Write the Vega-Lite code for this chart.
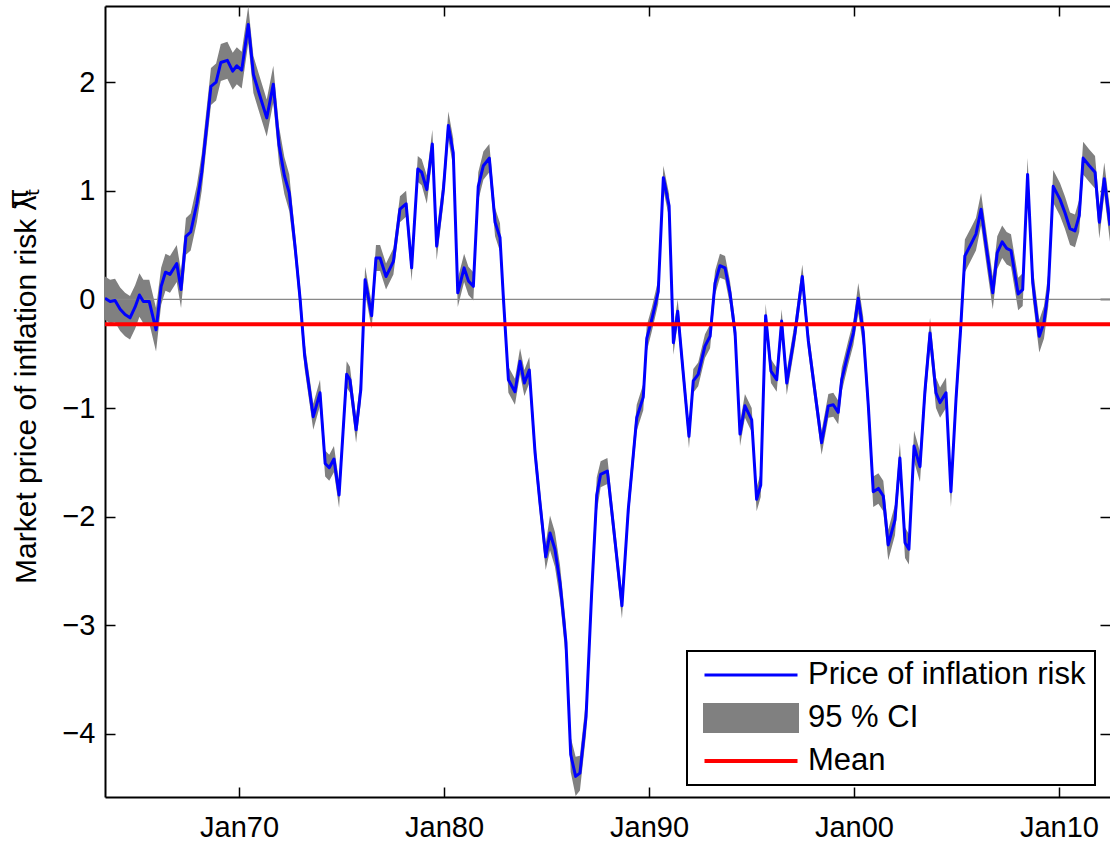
{
  "$schema": "https://vega.github.io/schema/vega-lite/v6.json",
  "width": 1005,
  "height": 791,
  "autosize": {"type": "none"},
  "padding": {"left": 105, "top": 6, "right": 0, "bottom": 45},
  "background": "white",
  "config": {
    "view": {"stroke": null},
    "font": "Liberation Sans",
    "axis": {"grid": false, "labelFont": "Liberation Sans", "labelFontSize": 29, "labelColor": "black", "tickColor": "black", "tickWidth": 1.5, "domainColor": "black", "domainWidth": 2, "labelOverlap": false, "labelFlush": false}
  },
  "datasets": {
    "series": [
      {"date": 1963.46, "lambda": 0.01, "lo": -0.19, "hi": 0.21},
      {"date": 1963.71, "lambda": -0.02, "lo": -0.22, "hi": 0.18},
      {"date": 1963.95, "lambda": -0.01, "lo": -0.21, "hi": 0.19},
      {"date": 1964.20, "lambda": -0.09, "lo": -0.29, "hi": 0.11},
      {"date": 1964.44, "lambda": -0.14, "lo": -0.34, "hi": 0.06},
      {"date": 1964.68, "lambda": -0.17, "lo": -0.37, "hi": 0.03},
      {"date": 1964.93, "lambda": -0.07, "lo": -0.27, "hi": 0.13},
      {"date": 1965.14, "lambda": 0.04, "lo": -0.16, "hi": 0.24},
      {"date": 1965.33, "lambda": -0.02, "lo": -0.22, "hi": 0.18},
      {"date": 1965.62, "lambda": -0.02, "lo": -0.22, "hi": 0.18},
      {"date": 1965.95, "lambda": -0.28, "lo": -0.48, "hi": -0.08},
      {"date": 1966.20, "lambda": 0.12, "lo": -0.05, "hi": 0.29},
      {"date": 1966.41, "lambda": 0.25, "lo": 0.08, "hi": 0.42},
      {"date": 1966.63, "lambda": 0.23, "lo": 0.06, "hi": 0.40},
      {"date": 1966.96, "lambda": 0.33, "lo": 0.16, "hi": 0.50},
      {"date": 1967.17, "lambda": 0.09, "lo": -0.08, "hi": 0.26},
      {"date": 1967.41, "lambda": 0.58, "lo": 0.41, "hi": 0.75},
      {"date": 1967.64, "lambda": 0.62, "lo": 0.45, "hi": 0.79},
      {"date": 1967.94, "lambda": 0.88, "lo": 0.71, "hi": 1.05},
      {"date": 1968.18, "lambda": 1.17, "lo": 1.00, "hi": 1.34},
      {"date": 1968.39, "lambda": 1.54, "lo": 1.37, "hi": 1.71},
      {"date": 1968.63, "lambda": 1.96, "lo": 1.79, "hi": 2.13},
      {"date": 1968.88, "lambda": 2.00, "lo": 1.83, "hi": 2.17},
      {"date": 1969.11, "lambda": 2.18, "lo": 2.01, "hi": 2.35},
      {"date": 1969.43, "lambda": 2.20, "lo": 2.03, "hi": 2.37},
      {"date": 1969.69, "lambda": 2.10, "lo": 1.93, "hi": 2.27},
      {"date": 1969.89, "lambda": 2.15, "lo": 1.98, "hi": 2.32},
      {"date": 1970.13, "lambda": 2.11, "lo": 1.94, "hi": 2.28},
      {"date": 1970.45, "lambda": 2.53, "lo": 2.36, "hi": 2.70},
      {"date": 1970.70, "lambda": 2.07, "lo": 1.90, "hi": 2.24},
      {"date": 1970.94, "lambda": 1.92, "lo": 1.75, "hi": 2.09},
      {"date": 1971.35, "lambda": 1.67, "lo": 1.50, "hi": 1.84},
      {"date": 1971.67, "lambda": 1.98, "lo": 1.81, "hi": 2.15},
      {"date": 1971.95, "lambda": 1.42, "lo": 1.25, "hi": 1.59},
      {"date": 1972.21, "lambda": 1.14, "lo": 0.97, "hi": 1.31},
      {"date": 1972.45, "lambda": 0.98, "lo": 0.81, "hi": 1.15},
      {"date": 1972.73, "lambda": 0.49, "lo": 0.37, "hi": 0.61},
      {"date": 1972.98, "lambda": 0.00, "lo": -0.12, "hi": 0.12},
      {"date": 1973.20, "lambda": -0.52, "lo": -0.64, "hi": -0.40},
      {"date": 1973.62, "lambda": -1.08, "lo": -1.20, "hi": -0.96},
      {"date": 1973.95, "lambda": -0.86, "lo": -0.98, "hi": -0.74},
      {"date": 1974.20, "lambda": -1.51, "lo": -1.63, "hi": -1.39},
      {"date": 1974.40, "lambda": -1.55, "lo": -1.67, "hi": -1.43},
      {"date": 1974.63, "lambda": -1.47, "lo": -1.59, "hi": -1.35},
      {"date": 1974.88, "lambda": -1.80, "lo": -1.92, "hi": -1.68},
      {"date": 1975.25, "lambda": -0.69, "lo": -0.81, "hi": -0.57},
      {"date": 1975.41, "lambda": -0.74, "lo": -0.86, "hi": -0.62},
      {"date": 1975.71, "lambda": -1.20, "lo": -1.32, "hi": -1.08},
      {"date": 1975.94, "lambda": -0.83, "lo": -0.95, "hi": -0.71},
      {"date": 1976.15, "lambda": 0.18, "lo": 0.06, "hi": 0.30},
      {"date": 1976.47, "lambda": -0.15, "lo": -0.27, "hi": -0.03},
      {"date": 1976.68, "lambda": 0.38, "lo": 0.26, "hi": 0.50},
      {"date": 1976.88, "lambda": 0.38, "lo": 0.26, "hi": 0.50},
      {"date": 1977.17, "lambda": 0.21, "lo": 0.09, "hi": 0.33},
      {"date": 1977.53, "lambda": 0.35, "lo": 0.23, "hi": 0.47},
      {"date": 1977.85, "lambda": 0.83, "lo": 0.71, "hi": 0.95},
      {"date": 1978.15, "lambda": 0.88, "lo": 0.76, "hi": 1.00},
      {"date": 1978.42, "lambda": 0.29, "lo": 0.17, "hi": 0.41},
      {"date": 1978.72, "lambda": 1.20, "lo": 1.08, "hi": 1.32},
      {"date": 1978.91, "lambda": 1.17, "lo": 1.05, "hi": 1.29},
      {"date": 1979.16, "lambda": 1.01, "lo": 0.88, "hi": 1.14},
      {"date": 1979.43, "lambda": 1.43, "lo": 1.30, "hi": 1.56},
      {"date": 1979.64, "lambda": 0.49, "lo": 0.36, "hi": 0.62},
      {"date": 1979.97, "lambda": 1.01, "lo": 0.88, "hi": 1.14},
      {"date": 1980.21, "lambda": 1.60, "lo": 1.47, "hi": 1.73},
      {"date": 1980.45, "lambda": 1.35, "lo": 1.22, "hi": 1.48},
      {"date": 1980.67, "lambda": 0.06, "lo": -0.07, "hi": 0.19},
      {"date": 1980.98, "lambda": 0.29, "lo": 0.16, "hi": 0.42},
      {"date": 1981.19, "lambda": 0.17, "lo": 0.04, "hi": 0.30},
      {"date": 1981.43, "lambda": 0.12, "lo": -0.01, "hi": 0.25},
      {"date": 1981.67, "lambda": 1.04, "lo": 0.91, "hi": 1.17},
      {"date": 1981.92, "lambda": 1.23, "lo": 1.10, "hi": 1.36},
      {"date": 1982.21, "lambda": 1.30, "lo": 1.17, "hi": 1.43},
      {"date": 1982.49, "lambda": 0.71, "lo": 0.58, "hi": 0.84},
      {"date": 1982.73, "lambda": 0.57, "lo": 0.44, "hi": 0.70},
      {"date": 1982.90, "lambda": 0.00, "lo": -0.13, "hi": 0.13},
      {"date": 1983.14, "lambda": -0.74, "lo": -0.86, "hi": -0.62},
      {"date": 1983.46, "lambda": -0.85, "lo": -0.97, "hi": -0.73},
      {"date": 1983.71, "lambda": -0.57, "lo": -0.69, "hi": -0.45},
      {"date": 1983.92, "lambda": -0.77, "lo": -0.89, "hi": -0.65},
      {"date": 1984.16, "lambda": -0.65, "lo": -0.77, "hi": -0.53},
      {"date": 1984.44, "lambda": -1.41, "lo": -1.53, "hi": -1.29},
      {"date": 1984.68, "lambda": -1.87, "lo": -1.99, "hi": -1.75},
      {"date": 1984.96, "lambda": -2.37, "lo": -2.49, "hi": -2.25},
      {"date": 1985.17, "lambda": -2.15, "lo": -2.31, "hi": -1.99},
      {"date": 1985.41, "lambda": -2.30, "lo": -2.46, "hi": -2.14},
      {"date": 1985.66, "lambda": -2.61, "lo": -2.77, "hi": -2.45},
      {"date": 1985.95, "lambda": -3.16, "lo": -3.32, "hi": -3.00},
      {"date": 1986.18, "lambda": -4.19, "lo": -4.35, "hi": -4.03},
      {"date": 1986.42, "lambda": -4.39, "lo": -4.57, "hi": -4.21},
      {"date": 1986.63, "lambda": -4.36, "lo": -4.52, "hi": -4.20},
      {"date": 1986.93, "lambda": -3.84, "lo": -4.00, "hi": -3.68},
      {"date": 1987.20, "lambda": -2.71, "lo": -2.87, "hi": -2.55},
      {"date": 1987.45, "lambda": -1.80, "lo": -1.96, "hi": -1.64},
      {"date": 1987.64, "lambda": -1.61, "lo": -1.73, "hi": -1.49},
      {"date": 1987.97, "lambda": -1.58, "lo": -1.70, "hi": -1.46},
      {"date": 1988.34, "lambda": -2.22, "lo": -2.34, "hi": -2.10},
      {"date": 1988.68, "lambda": -2.82, "lo": -2.94, "hi": -2.70},
      {"date": 1988.99, "lambda": -1.93, "lo": -2.05, "hi": -1.81},
      {"date": 1989.40, "lambda": -1.09, "lo": -1.21, "hi": -0.97},
      {"date": 1989.72, "lambda": -0.90, "lo": -1.02, "hi": -0.78},
      {"date": 1989.89, "lambda": -0.36, "lo": -0.48, "hi": -0.24},
      {"date": 1990.13, "lambda": -0.19, "lo": -0.30, "hi": -0.08},
      {"date": 1990.45, "lambda": 0.07, "lo": -0.04, "hi": 0.18},
      {"date": 1990.70, "lambda": 1.12, "lo": 1.01, "hi": 1.23},
      {"date": 1990.98, "lambda": 0.86, "lo": 0.75, "hi": 0.97},
      {"date": 1991.19, "lambda": -0.40, "lo": -0.51, "hi": -0.29},
      {"date": 1991.40, "lambda": -0.11, "lo": -0.22, "hi": 0.00},
      {"date": 1991.67, "lambda": -0.68, "lo": -0.79, "hi": -0.57},
      {"date": 1991.95, "lambda": -1.26, "lo": -1.37, "hi": -1.15},
      {"date": 1992.16, "lambda": -0.75, "lo": -0.86, "hi": -0.64},
      {"date": 1992.40, "lambda": -0.69, "lo": -0.80, "hi": -0.58},
      {"date": 1992.73, "lambda": -0.43, "lo": -0.54, "hi": -0.32},
      {"date": 1992.98, "lambda": -0.34, "lo": -0.45, "hi": -0.23},
      {"date": 1993.22, "lambda": 0.15, "lo": 0.04, "hi": 0.26},
      {"date": 1993.46, "lambda": 0.31, "lo": 0.20, "hi": 0.42},
      {"date": 1993.71, "lambda": 0.29, "lo": 0.18, "hi": 0.40},
      {"date": 1993.95, "lambda": 0.06, "lo": -0.05, "hi": 0.17},
      {"date": 1994.20, "lambda": -0.31, "lo": -0.42, "hi": -0.20},
      {"date": 1994.44, "lambda": -1.24, "lo": -1.35, "hi": -1.13},
      {"date": 1994.68, "lambda": -0.98, "lo": -1.09, "hi": -0.87},
      {"date": 1995.01, "lambda": -1.11, "lo": -1.22, "hi": -1.00},
      {"date": 1995.25, "lambda": -1.84, "lo": -1.95, "hi": -1.73},
      {"date": 1995.45, "lambda": -1.71, "lo": -1.82, "hi": -1.60},
      {"date": 1995.69, "lambda": -0.15, "lo": -0.26, "hi": -0.04},
      {"date": 1995.95, "lambda": -0.66, "lo": -0.77, "hi": -0.55},
      {"date": 1996.23, "lambda": -0.74, "lo": -0.85, "hi": -0.63},
      {"date": 1996.47, "lambda": -0.20, "lo": -0.31, "hi": -0.09},
      {"date": 1996.72, "lambda": -0.77, "lo": -0.88, "hi": -0.66},
      {"date": 1997.12, "lambda": -0.31, "lo": -0.42, "hi": -0.20},
      {"date": 1997.48, "lambda": 0.21, "lo": 0.10, "hi": 0.32},
      {"date": 1997.77, "lambda": -0.38, "lo": -0.49, "hi": -0.27},
      {"date": 1998.10, "lambda": -0.86, "lo": -0.97, "hi": -0.75},
      {"date": 1998.42, "lambda": -1.32, "lo": -1.43, "hi": -1.21},
      {"date": 1998.75, "lambda": -0.98, "lo": -1.09, "hi": -0.87},
      {"date": 1998.99, "lambda": -0.97, "lo": -1.08, "hi": -0.86},
      {"date": 1999.23, "lambda": -1.04, "lo": -1.15, "hi": -0.93},
      {"date": 1999.40, "lambda": -0.74, "lo": -0.85, "hi": -0.63},
      {"date": 1999.72, "lambda": -0.49, "lo": -0.60, "hi": -0.38},
      {"date": 1999.97, "lambda": -0.31, "lo": -0.42, "hi": -0.20},
      {"date": 2000.21, "lambda": 0.01, "lo": -0.13, "hi": 0.15},
      {"date": 2000.45, "lambda": -0.30, "lo": -0.44, "hi": -0.16},
      {"date": 2000.70, "lambda": -0.98, "lo": -1.12, "hi": -0.84},
      {"date": 2000.94, "lambda": -1.77, "lo": -1.91, "hi": -1.63},
      {"date": 2001.19, "lambda": -1.74, "lo": -1.88, "hi": -1.60},
      {"date": 2001.43, "lambda": -1.81, "lo": -1.95, "hi": -1.67},
      {"date": 2001.67, "lambda": -2.26, "lo": -2.40, "hi": -2.12},
      {"date": 2002.00, "lambda": -2.03, "lo": -2.17, "hi": -1.89},
      {"date": 2002.24, "lambda": -1.46, "lo": -1.60, "hi": -1.32},
      {"date": 2002.49, "lambda": -2.24, "lo": -2.38, "hi": -2.10},
      {"date": 2002.68, "lambda": -2.30, "lo": -2.44, "hi": -2.16},
      {"date": 2002.93, "lambda": -1.35, "lo": -1.49, "hi": -1.21},
      {"date": 2003.22, "lambda": -1.54, "lo": -1.68, "hi": -1.40},
      {"date": 2003.46, "lambda": -0.85, "lo": -0.99, "hi": -0.71},
      {"date": 2003.71, "lambda": -0.31, "lo": -0.45, "hi": -0.17},
      {"date": 2004.00, "lambda": -0.86, "lo": -1.00, "hi": -0.72},
      {"date": 2004.20, "lambda": -0.95, "lo": -1.09, "hi": -0.81},
      {"date": 2004.49, "lambda": -0.86, "lo": -1.00, "hi": -0.72},
      {"date": 2004.73, "lambda": -1.77, "lo": -1.91, "hi": -1.63},
      {"date": 2004.98, "lambda": -0.91, "lo": -1.05, "hi": -0.77},
      {"date": 2005.20, "lambda": -0.28, "lo": -0.43, "hi": -0.13},
      {"date": 2005.41, "lambda": 0.40, "lo": 0.25, "hi": 0.55},
      {"date": 2005.71, "lambda": 0.51, "lo": 0.36, "hi": 0.66},
      {"date": 2005.95, "lambda": 0.60, "lo": 0.45, "hi": 0.75},
      {"date": 2006.20, "lambda": 0.83, "lo": 0.68, "hi": 0.98},
      {"date": 2006.47, "lambda": 0.46, "lo": 0.31, "hi": 0.61},
      {"date": 2006.77, "lambda": 0.06, "lo": -0.09, "hi": 0.21},
      {"date": 2006.99, "lambda": 0.43, "lo": 0.28, "hi": 0.58},
      {"date": 2007.23, "lambda": 0.53, "lo": 0.38, "hi": 0.68},
      {"date": 2007.45, "lambda": 0.47, "lo": 0.32, "hi": 0.62},
      {"date": 2007.66, "lambda": 0.45, "lo": 0.30, "hi": 0.60},
      {"date": 2008.01, "lambda": 0.05, "lo": -0.10, "hi": 0.20},
      {"date": 2008.23, "lambda": 0.09, "lo": -0.06, "hi": 0.24},
      {"date": 2008.47, "lambda": 1.15, "lo": 1.00, "hi": 1.30},
      {"date": 2008.72, "lambda": 0.15, "lo": 0.00, "hi": 0.30},
      {"date": 2009.04, "lambda": -0.34, "lo": -0.49, "hi": -0.19},
      {"date": 2009.27, "lambda": -0.21, "lo": -0.36, "hi": -0.06},
      {"date": 2009.48, "lambda": 0.09, "lo": -0.06, "hi": 0.24},
      {"date": 2009.72, "lambda": 1.04, "lo": 0.89, "hi": 1.19},
      {"date": 2010.05, "lambda": 0.92, "lo": 0.77, "hi": 1.07},
      {"date": 2010.29, "lambda": 0.80, "lo": 0.65, "hi": 0.95},
      {"date": 2010.54, "lambda": 0.65, "lo": 0.50, "hi": 0.80},
      {"date": 2010.78, "lambda": 0.63, "lo": 0.48, "hi": 0.78},
      {"date": 2010.99, "lambda": 0.77, "lo": 0.62, "hi": 0.92},
      {"date": 2011.18, "lambda": 1.30, "lo": 1.15, "hi": 1.45},
      {"date": 2011.48, "lambda": 1.23, "lo": 1.08, "hi": 1.38},
      {"date": 2011.76, "lambda": 1.17, "lo": 1.02, "hi": 1.32},
      {"date": 2011.97, "lambda": 0.71, "lo": 0.56, "hi": 0.86},
      {"date": 2012.21, "lambda": 1.11, "lo": 0.96, "hi": 1.26},
      {"date": 2012.49, "lambda": 0.68, "lo": 0.53, "hi": 0.83}
    ],
    "zero": [{"level": 0}],
    "mean": [{"mean": -0.23}]
  },
  "resolve": {"axis": {"x": "independent", "y": "independent"}},
  "layer": [
    {
      "data": {"name": "series"},
      "mark": {"type": "area", "clip": true, "opacity": 1},
      "encoding": {
        "x": {"field": "date", "type": "quantitative", "scale": {"domain": [1963.46, 2012.49], "nice": false, "zero": false},
          "axis": {"orient": "bottom", "values": [1970, 1980, 1990, 2000, 2010], "labelExpr": "'Jan' + format(datum.value % 100, '02d')", "tickSize": -10, "labelPadding": 40.5, "labelBaseline": "middle", "title": null}},
        "y": {"field": "lo", "type": "quantitative", "scale": {"domain": [-4.58, 2.70], "nice": false, "zero": false},
          "axis": {"orient": "left", "values": [-4, -3, -2, -1, 0, 1, 2], "tickSize": -10, "labelPadding": 20,
            "title": ["π", "Market price of inflation risk  λₜ "], "titleFont": "Liberation Sans", "titleFontSize": 30, "titleFontWeight": "normal", "titleColor": "black",
            "titleAngle": -90, "titleAlign": "right", "titleBaseline": "alphabetic", "titleLineHeight": 8, "titleX": -78, "titleY": 182}},
        "y2": {"field": "hi"},
        "color": {"datum": "95 % CI", "type": "nominal",
          "scale": {"domain": ["Price of inflation risk", "95 % CI", "Mean"], "range": ["#0000ff", "#808080", "#ff0000"]},
          "legend": {
            "title": null, "orient": "none", "legendX": 582, "legendY": 645,
            "direction": "vertical",
            "fillColor": "white", "strokeColor": "black",
            "padding": 9, "symbolOffset": 7, "labelOffset": 9,
            "symbolType": "stroke", "symbolSize": 8649, "symbolStrokeWidth": 3,
            "clipHeight": 30, "rowPadding": 12,
            "labelFont": "Liberation Sans", "labelFontSize": 31, "labelColor": "black", "labelLimit": 0,
            "encoding": {
              "legend": {"strokeWidth": {"value": 2}},
              "symbols": {
                "shape": {"value": {"expr": "(datum.value === '95 % CI' ? 'M-1,-0.3H1V0.3H-1Z' : 'stroke')"}},
                "fill": {"value": {"expr": "(datum.value === '95 % CI' ? '#808080' : 'transparent')"}},
                "stroke": {"value": {"expr": "(datum.value === 'Mean' ? '#ff0000' : (datum.value === '95 % CI' ? 'transparent' : '#0000ff'))"}},
                "strokeWidth": {"value": {"expr": "(datum.value === 'Mean' ? 4 : 3)"}},
                "opacity": {"value": 1}
              }
            }
          }}
      }
    },
    {
      "data": {"name": "zero"},
      "mark": {"type": "rule", "color": "#888888", "strokeWidth": 1.3},
      "encoding": {
        "y": {"field": "level", "type": "quantitative", "axis": null}
      }
    },
    {
      "data": {"name": "series"},
      "mark": {"type": "line", "clip": true, "strokeWidth": 3, "strokeJoin": "round"},
      "encoding": {
        "x": {"field": "date", "type": "quantitative",
          "axis": {"orient": "top", "values": [1970, 1980, 1990, 2000, 2010], "labels": false, "tickSize": -10, "title": null}},
        "y": {"field": "lambda", "type": "quantitative",
          "axis": {"orient": "right", "values": [-4, -3, -2, -1, 0, 1, 2], "labels": false, "domain": false, "tickSize": -10, "title": null}},
        "color": {"datum": "Price of inflation risk", "type": "nominal"}
      }
    },
    {
      "data": {"name": "mean"},
      "mark": {"type": "rule", "strokeWidth": 4},
      "encoding": {
        "y": {"field": "mean", "type": "quantitative", "axis": null},
        "color": {"datum": "Mean", "type": "nominal"}
      }
    }
  ]
}
